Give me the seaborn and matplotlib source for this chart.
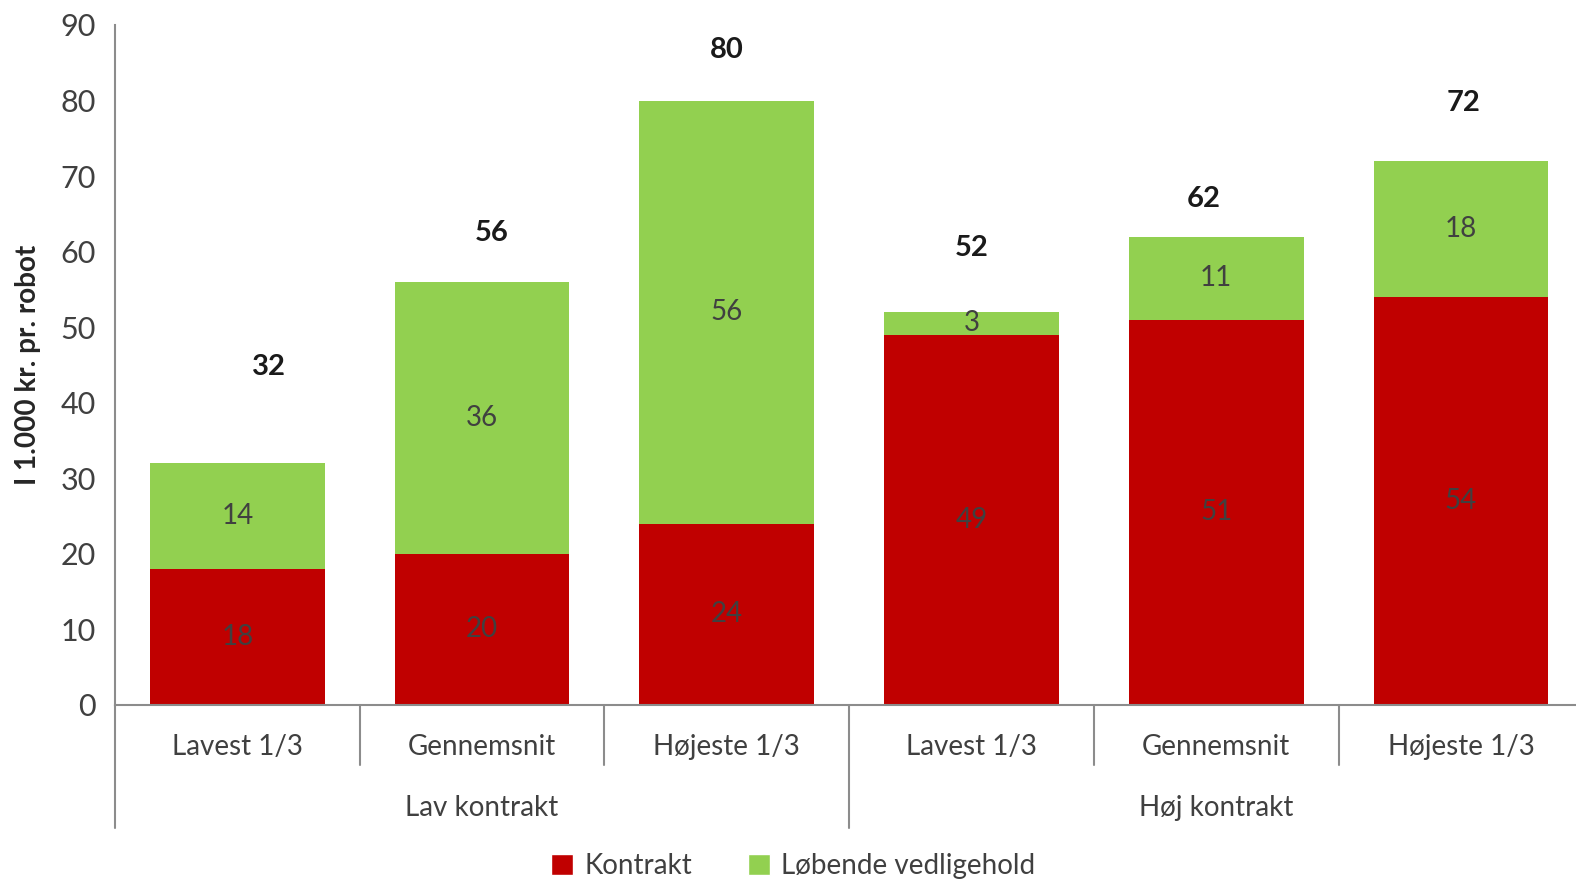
import pandas as pd
import seaborn as sns
import matplotlib.pyplot as plt
import matplotlib.transforms as mtransforms
from matplotlib.patches import Patch

# --- data ---
categories = ["Lavest 1/3", "Gennemsnit", "Højeste 1/3", "Lavest 1/3", "Gennemsnit", "Højeste 1/3"]
groups = ["Lav kontrakt", "Høj kontrakt"]
kontrakt = [18, 20, 24, 49, 51, 54]
vedligehold = [14, 36, 56, 3, 11, 18]
totals = [32, 56, 80, 52, 62, 72]

# label layout (offsets of the total labels, as in the original)
total_dy = [12.7, 6.5, 6.7, 8.5, 5.0, 7.7]
total_dx = [0.13, 0.04, 0.0, 0.0, -0.05, 0.01]

RED = "#C00000"
GREEN = "#92D050"
TXT = "#404040"
SPINE = "#8C8C8C"

sns.set_style("white")
plt.rcParams["font.family"] = ["Lato", "DejaVu Sans"]

df = pd.DataFrame({
    "pos": [str(i) for i in range(len(categories))],
    "kontrakt": kontrakt,
    "total": [k + v for k, v in zip(kontrakt, vedligehold)],
})

fig = plt.figure(figsize=(15.76, 8.84), dpi=100)
ax = fig.add_axes([115 / 1576, 1 - 705 / 884, 1 - 115 / 1576, (705 - 25) / 884])

# stacked bars: green total first, red part on top of it
sns.barplot(data=df, x="pos", y="total", color=GREEN, saturation=1, width=0.714,
            linewidth=0, edgecolor="none", ax=ax)
sns.barplot(data=df, x="pos", y="kontrakt", color=RED, saturation=1, width=0.714,
            linewidth=0, edgecolor="none", ax=ax)

ax.set_xlim(-0.5, 5.47)
ax.set_ylim(0, 90)
ax.set_yticks(range(0, 91, 10))
ax.tick_params(axis="y", labelsize=22, colors=TXT, length=8, width=1.5, direction="out", color=SPINE, pad=6)
ax.set_xticks([])
ax.set_xlabel("")
ax.set_ylabel("I 1.000 kr. pr. robot", fontsize=20, fontweight="bold", color="#262626", labelpad=14)
for side in ["top", "right"]:
    ax.spines[side].set_visible(False)
for side in ["left", "bottom"]:
    ax.spines[side].set_color(SPINE)
    ax.spines[side].set_linewidth(1.5)

# segment labels
for i in range(len(categories)):
    ax.text(i, kontrakt[i] / 2, str(kontrakt[i]), ha="center", va="center", fontsize=20, color=TXT)
    ax.text(i, kontrakt[i] + vedligehold[i] / 2, str(vedligehold[i]), ha="center", va="center",
            fontsize=20, color=TXT)
    ax.text(i + total_dx[i], totals[i] + total_dy[i], str(totals[i]), ha="center", va="center",
            fontsize=21, fontweight="bold", color="#1a1a1a")

# multi-level category axis
trans = mtransforms.blended_transform_factory(ax.transData, ax.transAxes)
short = 60 / 680
long = 123 / 680
for b in [-0.5, 0.5, 1.5, 2.5, 3.5, 4.5, 5.5]:
    depth = long if b in (-0.5, 2.5, 5.5) else short
    ax.plot([b, b], [0, -depth], transform=trans, color=SPINE, lw=1.5, clip_on=False)
for i, c in enumerate(categories):
    ax.text(i, -42 / 680, c, transform=trans, ha="center", va="center", fontsize=20, color=TXT)
for g, name in enumerate(groups):
    ax.text(g * 3 + 1, -103 / 680, name, transform=trans, ha="center", va="center", fontsize=20, color=TXT)

handles = [Patch(facecolor=RED, label="Kontrakt"), Patch(facecolor=GREEN, label="Løbende vedligehold")]
leg = fig.legend(handles=handles, loc="center", bbox_to_anchor=(793 / 1576, 1 - 866 / 884), ncol=2,
                 frameon=False, fontsize=20, handlelength=0.8, handleheight=0.8, handletextpad=0.4,
                 columnspacing=2.0)
for t in leg.get_texts():
    t.set_color(TXT)

fig.savefig("out.png", dpi=100)
